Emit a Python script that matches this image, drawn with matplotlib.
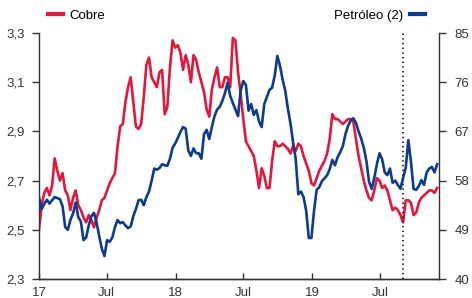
import matplotlib
matplotlib.use('Agg')
import matplotlib.pyplot as plt
import pandas as pd
from matplotlib.lines import Line2D

plt.rcParams['font.family'] = ['Liberation Sans', 'DejaVu Sans']

# weekly series
start_date = '2017-01-01'
cobre = [2.50, 2.60, 2.65, 2.67, 2.64, 2.68, 2.79, 2.74, 2.70, 2.73,
         2.66, 2.64, 2.58, 2.63, 2.66, 2.60, 2.58, 2.55, 2.53, 2.56,
         2.54, 2.51, 2.55, 2.58, 2.62, 2.63, 2.66, 2.69, 2.71, 2.73,
         2.84, 2.92, 2.93, 3.02, 3.08, 3.12, 3.02, 2.92, 2.91, 2.93,
         3.04, 3.17, 3.20, 3.12, 3.10, 3.08, 3.14, 3.15, 2.97, 3.00,
         3.16, 3.27, 3.24, 3.25, 3.22, 3.15, 3.21, 3.17, 3.10, 3.21,
         3.19, 3.14, 3.10, 3.06, 2.99, 2.96, 3.07, 3.12, 3.16, 3.08,
         3.08, 3.12, 3.12, 3.08, 3.28, 3.27, 3.14, 3.05, 2.95, 2.86,
         2.84, 2.82, 2.80, 2.74, 2.67, 2.75, 2.72, 2.67, 2.67, 2.78,
         2.86, 2.84, 2.84, 2.85, 2.84, 2.83, 2.81, 2.84, 2.82, 2.85,
         2.84, 2.80, 2.77, 2.74, 2.69, 2.68, 2.71, 2.74, 2.76, 2.78,
         2.81, 2.87, 2.97, 2.95, 2.95, 2.94, 2.93, 2.94, 2.95, 2.95,
         2.94, 2.87, 2.80, 2.75, 2.70, 2.66, 2.63, 2.62, 2.66, 2.71,
         2.70, 2.67, 2.68, 2.66, 2.62, 2.58, 2.59, 2.58, 2.56, 2.53,
         2.62, 2.62, 2.61, 2.56, 2.57, 2.61, 2.63, 2.64, 2.65, 2.66,
         2.66, 2.65, 2.67]
petroleo = [55.0, 52.8, 53.7, 54.5, 53.8, 54.4, 55.0, 54.8, 54.6, 53.3,
            49.5, 49.0, 50.8, 52.0, 54.0, 51.3, 50.5, 47.1, 47.6, 49.8,
            51.5, 52.1, 50.3, 47.8, 45.5, 44.2, 47.1, 46.8, 47.6, 49.5,
            50.8, 50.2, 50.4, 49.8, 49.3, 49.6, 51.5, 52.8, 54.4, 54.5,
            53.5, 55.0, 56.0, 58.0, 60.2, 60.0, 60.3, 61.0, 60.8, 60.7,
            62.0, 64.0, 64.8, 65.8, 66.9, 67.8, 67.5, 63.5, 62.5, 63.9,
            63.0, 63.0, 62.0, 66.5, 67.3, 65.6, 67.8, 69.8, 71.0, 71.5,
            72.6, 74.0, 75.9, 73.5, 72.2, 71.0, 69.8, 74.5, 76.2, 75.5,
            70.8, 72.0, 70.0, 70.9, 68.8, 67.8, 72.0, 73.3, 74.6, 75.0,
            77.2, 80.8, 79.0, 76.5, 74.5, 71.2, 68.5, 65.0, 62.0, 55.5,
            56.0, 55.0, 52.5, 47.5, 47.5, 52.5, 56.3, 56.8, 57.9, 58.4,
            59.0, 60.1, 61.8, 60.8, 62.3, 63.2, 64.3, 66.5, 68.0, 69.0,
            69.4, 68.6, 67.0, 65.7, 64.0, 61.6, 57.8, 56.5, 58.5, 61.0,
            63.0, 61.9, 59.5, 59.0, 60.2, 57.6, 58.0, 57.2, 56.5, 58.5,
            60.3, 65.4, 61.5, 56.5, 56.3, 57.0, 58.1, 57.2, 59.5, 60.2,
            60.5, 59.5, 61.0]
fechas = pd.date_range(start_date, periods=len(cobre), freq='7D')
marca_fecha = pd.Timestamp('2019-09-01')

x_ticks = ['2017-01-01', '2017-07-01', '2018-01-01', '2018-07-01', '2019-01-01', '2019-07-01']
x_labels = ['17', 'Jul', '18', 'Jul', '19', 'Jul']
y_left = [2.3, 2.5, 2.7, 2.9, 3.1, 3.3]
y_right = [40, 49, 58, 67, 76, 85]

rojo = '#e4173b'
azul = '#0c3c8f'

fig = plt.figure(figsize=(4.72, 2.98), dpi=100)
ax = fig.add_axes([39 / 472, 19 / 298, 400 / 472, 246 / 298])
ax2 = ax.twinx()

ax.plot(fechas, cobre, color=rojo, lw=1.9, solid_joinstyle='round')
ax2.plot(fechas, petroleo, color=azul, lw=1.9, solid_joinstyle='round')
ax2.axvline(marca_fecha, color='#222222', lw=1.3, linestyle=(0, (0.8, 1.8)))

ax.set_xlim(pd.Timestamp('2017-01-01'), pd.Timestamp('2019-12-06'))
ax.set_ylim(2.3, 3.3)
ax2.set_ylim(40, 85)

ax.set_xticks(pd.to_datetime(x_ticks))
ax.set_xticklabels(x_labels)
ax.set_yticks(y_left)
ax.set_yticklabels([f'{v:.1f}'.replace('.', ',') for v in y_left])
ax2.set_yticks(y_right)
ax2.set_yticklabels([str(v) for v in y_right])

for a in (ax, ax2):
    a.spines['top'].set_visible(False)
    for s in a.spines.values():
        s.set_color('#333333')
        s.set_linewidth(1.0)
ax2.spines['left'].set_visible(False)
ax.spines['right'].set_visible(False)

ax.tick_params(axis='x', direction='in', length=4, width=1, pad=6, labelsize=9.5, colors='#333333')
ax.tick_params(axis='y', direction='out', length=5, width=1, pad=5, labelsize=9.5, colors='#333333')
ax2.tick_params(axis='y', direction='out', length=5, width=1, pad=6, labelsize=9.5, colors='#333333')

h1 = Line2D([], [], color=rojo, lw=3)
h2 = Line2D([], [], color=azul, lw=3)
leg1 = fig.legend([h1], ['Cobre'], loc='center left', bbox_to_anchor=(43 / 472, 1 - 16 / 298),
                  frameon=False, fontsize=9.5, handlelength=1.1, handletextpad=0.5, borderaxespad=0)
leg2 = fig.legend([h2], ['Petróleo (2)'], loc='center right', bbox_to_anchor=(430 / 472, 1 - 16 / 298),
                  frameon=False, fontsize=9.5, handlelength=1.1, handletextpad=0.5, borderaxespad=0,
                  markerfirst=False)

fig.savefig('out.png', dpi=100)
